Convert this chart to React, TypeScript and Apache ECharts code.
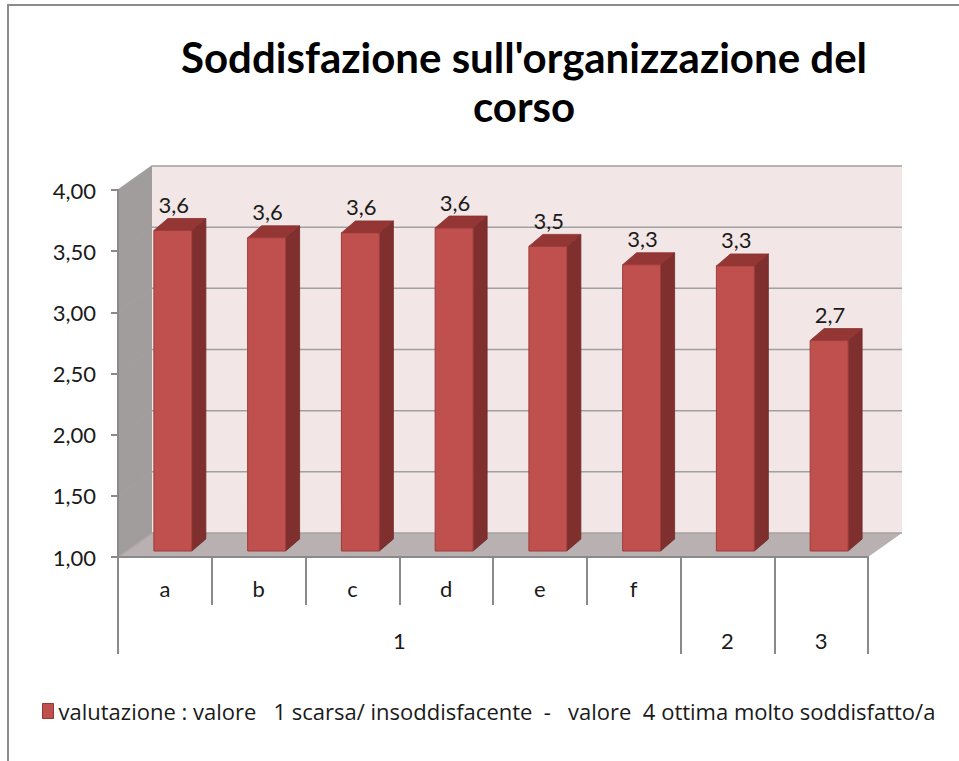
import React, { useEffect, useRef } from 'react';
import * as echarts from 'echarts';

// ---- data ----
const categories = ['a', 'b', 'c', 'd', 'e', 'f', '', ''];
const values = [3.62, 3.56, 3.6, 3.64, 3.49, 3.34, 3.33, 2.72];
const groupNames = ['1', '2', '3'];
const groupStarts = [0, 6, 7];
const groupEnds = [6, 7, 8];
const yTicks = [1, 1.5, 2, 2.5, 3, 3.5, 4];
const seriesName =
  'valutazione : valore   1 scarsa/ insoddisfacente  -   valore  4 ottima molto soddisfatto/a';
const titleText = "Soddisfazione sull'organizzazione del\ncorso";

const FONT = 'Lato';
const DX = 34; // depth offset of back wall
const DY = -24;
const FX = 8; // bar front face offset
const FY = -6;
const BX = 14; // bar depth
const BY = -12;

export default function App() {
  const ref = useRef<HTMLDivElement>(null);
  useEffect(() => {
    if (!ref.current) return;
    const chart = echarts.init(ref.current, undefined, { renderer: 'svg' });
    const yMin = yTicks[0];
    const yMax = yTicks[yTicks.length - 1];
    const fmt = (v: number, d: number) => v.toFixed(d).replace('.', ',');
    const groupBounds = Array.from(new Set([...groupStarts, ...groupEnds]));
    const groupCenters = groupNames.map((_, i) => (groupStarts[i] + groupEnds[i]) / 2);

    const option: any = {
      animation: false,
      backgroundColor: '#fff',
      title: {
        text: titleText,
        left: 524,
        top: 32,
        textAlign: 'center',
        padding: 0,
        textStyle: {
          fontFamily: FONT,
          fontWeight: 'bold',
          fontSize: 42,
          lineHeight: 49,
          color: '#000',
        },
      },
      legend: {
        data: [seriesName],
        left: 42,
        top: 700,
        padding: 0,
        icon: 'rect',
        itemWidth: 11,
        itemHeight: 15,
        itemStyle: { borderColor: '#8c3836', borderWidth: 1 },
        textStyle: { fontFamily: 'Open Sans', fontSize: 22, color: '#1a1a1a' },
      },
      graphic: [
        {
          type: 'rect',
          z: -10,
          shape: { x: 8, y: 5, width: 1000, height: 800 },
          style: { fill: 'none', stroke: '#8c8c8c', lineWidth: 2 },
          silent: true,
        },
      ],
      grid: { left: 118, top: 190, width: 750, height: 367, containLabel: false },
      xAxis: [
        {
          type: 'category',
          data: categories,
          position: 'bottom',
          boundaryGap: true,
          axisLine: { show: true, lineStyle: { color: '#8a8a8a', width: 2 } },
          axisTick: { show: true, interval: 0, length: 48, lineStyle: { color: '#8a8a8a', width: 2 } },
          axisLabel: { interval: 0, margin: 20, fontFamily: FONT, fontSize: 22, color: '#1a1a1a' },
          splitLine: { show: false },
          z: 5,
        },
        {
          type: 'value',
          min: 0,
          max: groupEnds[groupEnds.length - 1],
          position: 'bottom',
          offset: 0,
          axisLine: { show: false },
          axisTick: {
            show: true,
            customValues: groupBounds,
            length: 97,
            lineStyle: { color: '#8a8a8a', width: 2 },
          },
          axisLabel: {
            show: true,
            customValues: groupCenters,
            margin: 72,
            fontFamily: FONT,
            fontSize: 22,
            color: '#1a1a1a',
            formatter: (v: number) => {
              const i = groupCenters.indexOf(v);
              return i >= 0 ? groupNames[i] : '';
            },
          },
          splitLine: { show: false },
          z: 5,
        },
      ],
      yAxis: {
        type: 'value',
        min: yMin,
        max: yMax,
        interval: 0.5,
        axisLine: { show: true, lineStyle: { color: '#8a8a8a', width: 2 } },
        axisTick: { show: true, length: 7, lineStyle: { color: '#8a8a8a', width: 2 } },
        axisLabel: {
          margin: 22,
          fontFamily: FONT,
          fontSize: 22,
          color: '#1a1a1a',
          formatter: (v: number) => fmt(v, 2),
        },
        splitLine: { show: false },
        z: 5,
      },
      series: [
        {
          type: 'custom',
          name: 'scene',
          silent: true,
          z: 1,
          xAxisIndex: 0,
          yAxisIndex: 0,
          data: [[0, yMin]],
          renderItem: (params: any, api: any) => {
            const cs = params.coordSys;
            const gx = cs.x, gy = cs.y, gw = cs.width, gh = cs.height;
            const children: any[] = [
              {
                type: 'rect',
                shape: { x: gx + DX, y: gy + DY, width: gw, height: gh },
                style: { fill: '#f3e6e6' },
              },
              {
                type: 'polygon',
                shape: {
                  points: [
                    [gx, gy],
                    [gx + DX, gy + DY],
                    [gx + DX, gy + gh + DY],
                    [gx, gy + gh],
                  ],
                },
                style: { fill: '#a29d9d' },
              },
              {
                type: 'polygon',
                shape: {
                  points: [
                    [gx, gy + gh],
                    [gx + DX, gy + gh + DY],
                    [gx + gw + DX, gy + gh + DY],
                    [gx + gw, gy + gh],
                  ],
                },
                style: { fill: '#b9b1b1' },
              },
            ];
            yTicks.forEach((v) => {
              const y = api.coord([0, v])[1];
              children.push({
                type: 'polyline',
                shape: {
                  points: [
                    [gx, y],
                    [gx + DX, y + DY],
                    [gx + gw + DX, y + DY],
                  ],
                },
                style: { stroke: v === yMin ? '#a9a3a3' : '#a0a0a0', lineWidth: 1.5, fill: 'none' },
              });
            });
            return { type: 'group', children };
          },
        },
        {
          type: 'custom',
          name: seriesName,
          z: 3,
          clip: false,
          xAxisIndex: 0,
          yAxisIndex: 0,
          itemStyle: { color: '#c0504d' },
          encode: { x: 0, y: 1 },
          data: values.map((v, i) => [i, v]),
          renderItem: (params: any, api: any) => {
            const i = api.value(0);
            const v = api.value(1);
            const top = api.coord([i, v]);
            const base = api.coord([i, yMin]);
            const band = api.size([1, 0])[0];
            const w = band * 0.405;
            const x0 = top[0] + FX - w / 2;
            const x1 = x0 + w;
            const yt = top[1] + FY;
            const yb = base[1] + FY;
            return {
              type: 'group',
              children: [
                {
                  type: 'polygon',
                  shape: {
                    points: [
                      [x1, yt],
                      [x1 + BX, yt + BY],
                      [x1 + BX, yb + BY],
                      [x1, yb],
                    ],
                  },
                  style: { fill: '#7f302e', stroke: '#6e2826', lineWidth: 0.8 },
                },
                {
                  type: 'polygon',
                  shape: {
                    points: [
                      [x0, yt],
                      [x1, yt],
                      [x1 + BX, yt + BY],
                      [x0 + BX, yt + BY],
                    ],
                  },
                  style: { fill: '#943634', stroke: '#873230', lineWidth: 0.8 },
                },
                {
                  type: 'rect',
                  shape: { x: x0, y: yt, width: w, height: yb - yt },
                  style: { fill: '#c0504d', stroke: '#9c3d3a', lineWidth: 1 },
                },
                {
                  type: 'text',
                  style: {
                    text: fmt(v, 1),
                    x: (x0 + x1) / 2 + 1,
                    y: yt + BY - 14,
                    align: 'center',
                    verticalAlign: 'middle',
                    fontFamily: FONT,
                    fontSize: 22,
                    fill: '#1a1a1a',
                  },
                },
              ],
            };
          },
        },
      ],
    };
    chart.setOption(option);
    return () => chart.dispose();
  }, []);
  return (
    <div
      ref={ref}
      style={{ position: 'fixed', left: 0, top: 0, width: 959, height: 761 }}
    />
  );
}
